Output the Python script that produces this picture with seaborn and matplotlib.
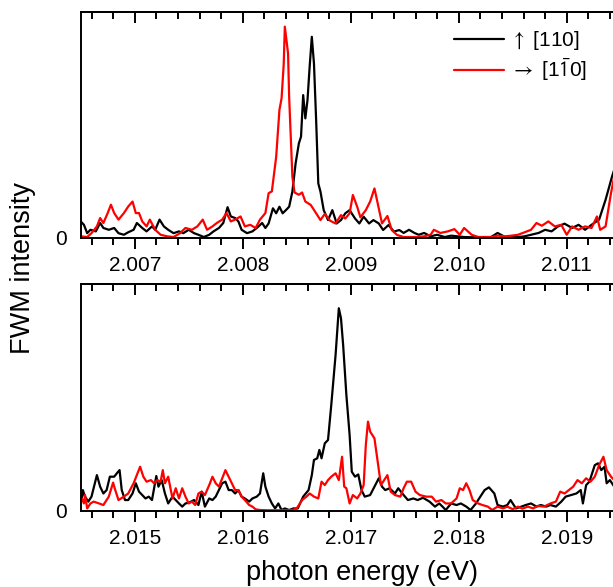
import numpy as np
import pandas as pd
import matplotlib
matplotlib.use("Agg")
import matplotlib.pyplot as plt
from matplotlib.ticker import MultipleLocator, FixedLocator
import seaborn as sns

# ---------------- data (photon energy in eV, FWM intensity in arb. units) ----------------
top_black_e = [2.00650, 2.00653, 2.00656, 2.00659, 2.00664, 2.00668, 2.00671, 2.00676, 2.00681, 2.00685,
               2.00690, 2.00694, 2.00699, 2.00702, 2.00707, 2.00711, 2.00716, 2.00719, 2.00723, 2.00727,
               2.00731, 2.00736, 2.00741, 2.00745, 2.00750, 2.00755, 2.00759, 2.00764, 2.00769, 2.00773,
               2.00778, 2.00782, 2.00786, 2.00789, 2.00793, 2.00796, 2.00799, 2.00804, 2.00809, 2.00813,
               2.00818, 2.00821, 2.00824, 2.00828, 2.00831, 2.00834, 2.00837, 2.00840, 2.00843, 2.00846,
               2.00849, 2.00852, 2.00854, 2.00856, 2.00858, 2.00860, 2.00862, 2.00864, 2.00866, 2.00868,
               2.00870, 2.00872, 2.00875, 2.00879, 2.00883, 2.00887, 2.00891, 2.00895, 2.00899, 2.00904,
               2.00908, 2.00912, 2.00917, 2.00921, 2.00926, 2.00930, 2.00935, 2.00940, 2.00945, 2.00949,
               2.00954, 2.00959, 2.00963, 2.00968, 2.00974, 2.00980, 2.00987, 2.00993, 2.00999, 2.01005,
               2.01012, 2.01018, 2.01024, 2.01030, 2.01036, 2.01043, 2.01049, 2.01055, 2.01061, 2.01067,
               2.01074, 2.01080, 2.01086, 2.01092, 2.01098, 2.01105, 2.01111, 2.01117, 2.01123, 2.01130,
               2.01136, 2.01142, 2.01148]
top_black_v = [0.072, 0.057, 0.020, 0.035, 0.028, 0.065, 0.043, 0.035, 0.043, 0.020,
               0.013, 0.024, 0.035, 0.065, 0.043, 0.028, 0.050, 0.035, 0.080, 0.050,
               0.035, 0.020, 0.028, 0.020, 0.035, 0.020, 0.013, 0.003, 0.013, 0.028,
               0.043, 0.065, 0.135, 0.094, 0.087, 0.072, 0.035, 0.020, 0.028, 0.043,
               0.065, 0.043, 0.063, 0.130, 0.108, 0.137, 0.108, 0.122, 0.137, 0.204,
               0.329, 0.417, 0.447, 0.631, 0.528, 0.609, 0.757, 0.889, 0.770, 0.520,
               0.240, 0.204, 0.122, 0.078, 0.122, 0.063, 0.078, 0.108, 0.122, 0.085,
               0.063, 0.093, 0.063, 0.078, 0.063, 0.034, 0.056, 0.027, 0.034, 0.021,
               0.035, 0.021, 0.013, 0.021, 0.006, 0.013, 0.003, 0.009, 0.006, 0.003,
               0.002, 0.003, 0.003, 0.003, 0.021, 0.003, 0.006, 0.003, 0.006, 0.013,
               0.021, 0.035, 0.028, 0.050, 0.062, 0.043, 0.057, 0.035, 0.057, 0.080,
               0.168, 0.271, 0.360]

top_red_e = [2.00650, 2.00656, 2.00660, 2.00665, 2.00668, 2.00671, 2.00675, 2.00678, 2.00681, 2.00685,
             2.00690, 2.00694, 2.00698, 2.00701, 2.00704, 2.00707, 2.00711, 2.00714, 2.00719, 2.00724,
             2.00730, 2.00736, 2.00742, 2.00747, 2.00753, 2.00758, 2.00763, 2.00767, 2.00772, 2.00776,
             2.00781, 2.00785, 2.00789, 2.00793, 2.00798, 2.00802, 2.00807, 2.00812, 2.00816, 2.00821,
             2.00824, 2.00827, 2.00831, 2.00834, 2.00836, 2.00838, 2.00839, 2.00842, 2.00843, 2.00846,
             2.00848, 2.00852, 2.00855, 2.00858, 2.00863, 2.00868, 2.00872, 2.00876, 2.00881, 2.00886,
             2.00891, 2.00895, 2.00899, 2.00902, 2.00906, 2.00909, 2.00914, 2.00918, 2.00922, 2.00925,
             2.00929, 2.00934, 2.00938, 2.00943, 2.00949, 2.00955, 2.00961, 2.00968, 2.00974, 2.00977,
             2.00983, 2.00990, 2.00996, 2.01001, 2.01005, 2.01012, 2.01018, 2.01024, 2.01030, 2.01036,
             2.01043, 2.01049, 2.01055, 2.01061, 2.01067, 2.01072, 2.01077, 2.01083, 2.01089, 2.01095,
             2.01100, 2.01105, 2.01111, 2.01117, 2.01123, 2.01128, 2.01131, 2.01136, 2.01141, 2.01145,
             2.01148]
top_red_v = [0.006, 0.003, 0.020, 0.050, 0.087, 0.065, 0.109, 0.146, 0.109, 0.080,
             0.109, 0.138, 0.160, 0.109, 0.109, 0.072, 0.050, 0.080, 0.035, 0.013,
             0.006, 0.003, 0.020, 0.043, 0.035, 0.050, 0.080, 0.035, 0.050, 0.065,
             0.080, 0.109, 0.072, 0.080, 0.094, 0.050, 0.057, 0.043, 0.080, 0.109,
             0.197, 0.205, 0.358, 0.565, 0.617, 0.770, 0.934, 0.816, 0.624, 0.270,
             0.200, 0.190, 0.200, 0.160, 0.145, 0.108, 0.078, 0.105, 0.075, 0.063,
             0.100, 0.085, 0.108, 0.189, 0.137, 0.090, 0.122, 0.160, 0.218, 0.152,
             0.063, 0.096, 0.034, 0.012, 0.003, 0.003, 0.003, 0.006, 0.013, 0.035,
             0.021, 0.028, 0.038, 0.013, 0.043, 0.013, 0.003, 0.002, 0.003, 0.009,
             0.006, 0.009, 0.013, 0.024, 0.035, 0.065, 0.053, 0.072, 0.050, 0.057,
             0.013, 0.050, 0.035, 0.050, 0.043, 0.094, 0.035, 0.050, 0.197, 0.293,
             0.360]

bot_black_e = [2.01451, 2.01452, 2.01454, 2.01457, 2.01460, 2.01465, 2.01468, 2.01471, 2.01474, 2.01477,
               2.01481, 2.01484, 2.01486, 2.01488, 2.01491, 2.01494, 2.01498, 2.01501, 2.01504, 2.01507,
               2.01510, 2.01513, 2.01516, 2.01520, 2.01522, 2.01525, 2.01528, 2.01531, 2.01535, 2.01538,
               2.01541, 2.01544, 2.01547, 2.01550, 2.01555, 2.01559, 2.01562, 2.01565, 2.01569, 2.01572,
               2.01575, 2.01578, 2.01581, 2.01584, 2.01587, 2.01590, 2.01593, 2.01596, 2.01599, 2.01602,
               2.01606, 2.01609, 2.01613, 2.01616, 2.01619, 2.01621, 2.01624, 2.01627, 2.01630, 2.01633,
               2.01636, 2.01639, 2.01643, 2.01647, 2.01651, 2.01656, 2.01661, 2.01664, 2.01666, 2.01669,
               2.01671, 2.01673, 2.01676, 2.01679, 2.01682, 2.01686, 2.01689, 2.01691, 2.01693, 2.01696,
               2.01699, 2.01701, 2.01704, 2.01707, 2.01710, 2.01713, 2.01718, 2.01722, 2.01726, 2.01729,
               2.01732, 2.01736, 2.01741, 2.01744, 2.01749, 2.01753, 2.01758, 2.01762, 2.01767, 2.01773,
               2.01778, 2.01782, 2.01785, 2.01788, 2.01793, 2.01798, 2.01802, 2.01807, 2.01811, 2.01816,
               2.01820, 2.01824, 2.01828, 2.01833, 2.01836, 2.01841, 2.01845, 2.01848, 2.01853, 2.01858,
               2.01862, 2.01867, 2.01872, 2.01876, 2.01881, 2.01885, 2.01890, 2.01895, 2.01899, 2.01904,
               2.01909, 2.01913, 2.01915, 2.01918, 2.01921, 2.01926, 2.01929, 2.01932, 2.01935, 2.01937,
               2.01940, 2.01944, 2.01948]
bot_black_v = [0.054, 0.091, 0.062, 0.040, 0.062, 0.157, 0.106, 0.076, 0.091, 0.150,
               0.150, 0.168, 0.179, 0.091, 0.047, 0.047, 0.076, 0.121, 0.084, 0.069,
               0.054, 0.062, 0.047, 0.153, 0.106, 0.135, 0.076, 0.032, 0.062, 0.047,
               0.032, 0.018, 0.032, 0.035, 0.047, 0.025, 0.084, 0.018, 0.054, 0.047,
               0.062, 0.091, 0.121, 0.128, 0.091, 0.091, 0.076, 0.091, 0.062, 0.054,
               0.040, 0.054, 0.062, 0.076, 0.165, 0.106, 0.062, 0.032, 0.010, 0.032,
               0.003, 0.010, 0.003, 0.010, 0.010, 0.062, 0.091, 0.157, 0.224, 0.231,
               0.268, 0.231, 0.297, 0.312, 0.466, 0.687, 0.893, 0.849, 0.731, 0.510,
               0.334, 0.172, 0.150, 0.160, 0.091, 0.062, 0.069, 0.106, 0.143, 0.106,
               0.091, 0.099, 0.076, 0.099, 0.069, 0.047, 0.054, 0.047, 0.057, 0.040,
               0.018, 0.032, 0.018, 0.003, 0.032, 0.025, 0.032, 0.018, 0.003, 0.032,
               0.062, 0.091, 0.103, 0.076, 0.025, 0.018, 0.025, 0.047, 0.010, 0.018,
               0.025, 0.032, 0.018, 0.025, 0.018, 0.025, 0.018, 0.040, 0.062, 0.069,
               0.076, 0.091, 0.032, 0.113, 0.128, 0.201, 0.209, 0.179, 0.194, 0.121,
               0.135, 0.106, 0.100]

bot_red_e = [2.01451, 2.01453, 2.01454, 2.01456, 2.01459, 2.01462, 2.01467, 2.01471, 2.01476, 2.01480,
             2.01482, 2.01485, 2.01490, 2.01494, 2.01499, 2.01502, 2.01505, 2.01508, 2.01511, 2.01515,
             2.01518, 2.01521, 2.01524, 2.01526, 2.01528, 2.01531, 2.01535, 2.01538, 2.01541, 2.01544,
             2.01547, 2.01550, 2.01553, 2.01556, 2.01559, 2.01562, 2.01565, 2.01569, 2.01572, 2.01575,
             2.01578, 2.01581, 2.01584, 2.01587, 2.01590, 2.01593, 2.01596, 2.01599, 2.01602, 2.01606,
             2.01609, 2.01612, 2.01616, 2.01623, 2.01629, 2.01635, 2.01641, 2.01646, 2.01650, 2.01655,
             2.01659, 2.01662, 2.01666, 2.01670, 2.01673, 2.01676, 2.01679, 2.01682, 2.01686, 2.01689,
             2.01692, 2.01694, 2.01696, 2.01699, 2.01702, 2.01706, 2.01709, 2.01712, 2.01714, 2.01716,
             2.01718, 2.01722, 2.01725, 2.01728, 2.01731, 2.01734, 2.01737, 2.01741, 2.01746, 2.01749,
             2.01752, 2.01756, 2.01760, 2.01764, 2.01770, 2.01775, 2.01779, 2.01784, 2.01788, 2.01793,
             2.01798, 2.01801, 2.01804, 2.01807, 2.01810, 2.01813, 2.01818, 2.01822, 2.01827, 2.01831,
             2.01836, 2.01841, 2.01845, 2.01850, 2.01855, 2.01859, 2.01864, 2.01869, 2.01873, 2.01879,
             2.01885, 2.01890, 2.01894, 2.01898, 2.01902, 2.01906, 2.01910, 2.01914, 2.01918, 2.01922,
             2.01926, 2.01930, 2.01934, 2.01937, 2.01941, 2.01944, 2.01948]
bot_red_v = [0.054, 0.032, 0.069, 0.010, 0.032, 0.040, 0.032, 0.025, 0.062, 0.124,
             0.091, 0.047, 0.062, 0.076, 0.121, 0.157, 0.194, 0.150, 0.128, 0.135,
             0.121, 0.135, 0.128, 0.179, 0.121, 0.150, 0.054, 0.099, 0.054, 0.099,
             0.062, 0.032, 0.040, 0.025, 0.076, 0.084, 0.069, 0.113, 0.150, 0.121,
             0.106, 0.143, 0.179, 0.150, 0.121, 0.091, 0.091, 0.062, 0.047, 0.025,
             0.018, 0.006, 0.003, 0.002, 0.002, 0.002, 0.002, 0.003, 0.010, 0.047,
             0.062, 0.076, 0.062, 0.054, 0.128, 0.113, 0.135, 0.150, 0.165, 0.135,
             0.238, 0.106, 0.099, 0.032, 0.069, 0.054, 0.076, 0.113, 0.290, 0.393,
             0.349, 0.319, 0.216, 0.113, 0.135, 0.157, 0.084, 0.069, 0.062, 0.099,
             0.128, 0.128, 0.084, 0.069, 0.062, 0.062, 0.040, 0.047, 0.032, 0.032,
             0.054, 0.099, 0.091, 0.121, 0.091, 0.047, 0.032, 0.025, 0.018, 0.003,
             0.018, 0.010, 0.018, 0.007, 0.018, 0.009, 0.018, 0.010, 0.021, 0.018,
             0.032, 0.040, 0.084, 0.076, 0.091, 0.106, 0.135, 0.121, 0.143, 0.128,
             0.150, 0.201, 0.238, 0.179, 0.150, 0.135, 0.130]

top_xlim = (2.0065, 2.0115)
bot_xlim = (2.0145, 2.0195)
top_major = [2.007, 2.008, 2.009, 2.010, 2.011]
bot_major = [2.015, 2.016, 2.017, 2.018, 2.019]

legend_labels = [r"$\uparrow$ [110]", r"$\rightarrow$ [1$\bar{1}$0]"]
color_black = "#000000"
color_red = "#ff0000"

# ---------------- style ----------------
sns.set_style("ticks")
plt.rcParams["font.family"] = ["Liberation Sans", "DejaVu Sans"]
plt.rcParams["mathtext.fontset"] = "stixsans"
for key in ["text.color", "axes.labelcolor", "xtick.color", "ytick.color", "axes.edgecolor"]:
    plt.rcParams[key] = "black"
plt.rcParams["axes.linewidth"] = 1.4

W, H = 613, 587
fig = plt.figure(figsize=(W / 100, H / 100), dpi=100)

ax_left = 80.7 / W
ax_w = 540.0 / W
top_ax = fig.add_axes([ax_left, (H - 237.7) / H, ax_w, 226.0 / H])
bot_ax = fig.add_axes([ax_left, (H - 510.7) / H, ax_w, 226.7 / H])


def draw_panel(ax, e_black, v_black, e_red, v_red, xlim, majors, with_legend):
    db = pd.DataFrame({"energy": e_black, "intensity": v_black})
    dr = pd.DataFrame({"energy": e_red, "intensity": v_red})
    sns.lineplot(data=db, x="energy", y="intensity", color=color_black, lw=1.6,
                 estimator=None, ax=ax, label=legend_labels[0] if with_legend else None)
    sns.lineplot(data=dr, x="energy", y="intensity", color=color_red, lw=1.6,
                 estimator=None, ax=ax, label=legend_labels[1] if with_legend else None)
    ax.set_xlim(*xlim)
    ax.set_ylim(0, 1.0)
    ax.set_xlabel("")
    ax.set_ylabel("")
    ax.spines["right"].set_visible(False)
    ax.xaxis.set_major_locator(FixedLocator(majors))
    ax.xaxis.set_minor_locator(MultipleLocator(0.0002))
    ax.set_xticklabels([f"{m:.3f}" for m in majors])
    ax.tick_params(axis="x", which="major", direction="out", length=8, width=1.4,
                   labelsize=15, pad=5, top=False)
    ax.tick_params(axis="x", which="minor", direction="out", length=5, width=1.4, top=False)
    ax.set_yticks([0])
    ax.set_yticklabels(["0"])
    ax.tick_params(axis="y", length=0, labelsize=15, pad=10)
    # mirrored inward ticks on top spine
    sec = ax.secondary_xaxis("top")
    sec.xaxis.set_major_locator(FixedLocator(majors))
    sec.xaxis.set_minor_locator(MultipleLocator(0.0002))
    sec.tick_params(axis="x", which="major", direction="in", length=8, width=1.4, labeltop=False)
    sec.tick_params(axis="x", which="minor", direction="in", length=5, width=1.4)
    sec.spines["top"].set_linewidth(1.4)
    if with_legend:
        ax.legend(loc="upper left", bbox_to_anchor=(454 / W, (H - 29) / H),
                  bbox_transform=fig.transFigure, frameon=False, fontsize=15,
                  handlelength=2.4, handletextpad=0.3, labelspacing=0.2,
                  borderpad=0, borderaxespad=0)
    elif ax.get_legend() is not None:
        ax.get_legend().remove()


draw_panel(top_ax, top_black_e, top_black_v, top_red_e, top_red_v, top_xlim, top_major, True)
draw_panel(bot_ax, bot_black_e, bot_black_v, bot_red_e, bot_red_v, bot_xlim, bot_major, False)

fig.text(362 / W, (H - 573) / H, "photon energy (eV)", ha="center", va="center", fontsize=19.5)
fig.text(23 / W, (H - 268) / H, "FWM intensity", ha="center", va="center",
         rotation=90, fontsize=19.5)

fig.savefig("out.png", dpi=100)
